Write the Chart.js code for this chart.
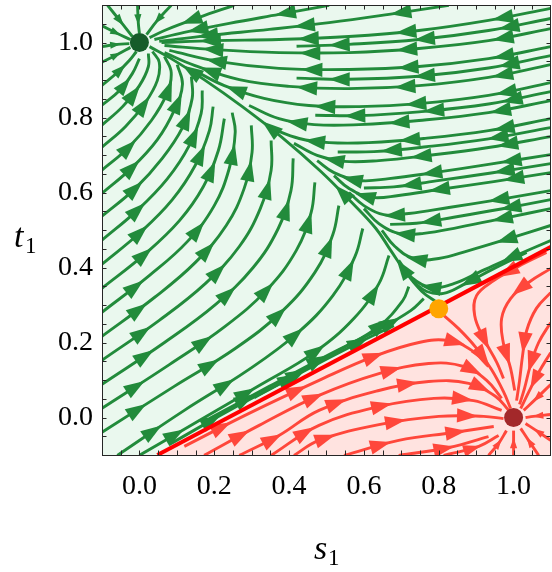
<!DOCTYPE html>
<html>
<head>
<meta charset="utf-8">
<script src="https://cdn.jsdelivr.net/npm/chart.js@4"></script>
<style>
  html, body { margin: 0; padding: 0; background: #ffffff; }
  #wrap { width: 552px; height: 572px; position: relative; }
</style>
</head>
<body>
<div id="wrap"><canvas id="c"></canvas></div>
<script>
// ---------------- data ----------------
const axisMin = -0.1, axisMax = 1.1;
const majorTicks = [0.0, 0.2, 0.4, 0.6, 0.8, 1.0];
const tickLabels = ['0.0', '0.2', '0.4', '0.6', '0.8', '1.0'];
const minorTicks = [-0.05, 0.0, 0.05, 0.1, 0.15, 0.2, 0.25, 0.3, 0.35, 0.4, 0.45, 0.5,
                    0.55, 0.6, 0.65, 0.7, 0.75, 0.8, 0.85, 0.9, 0.95, 1.0, 1.05];
const xTitle = ['s', '1'];
const yTitle = ['t', '1'];

// separatrix (red line)
const sepS = [0.048, 1.1];
const sepT = [-0.1, 0.455];

// fixed points
const sinkGreen = [0.0, 1.0];
const sinkRed = [1.0, 0.0];
const saddlePt = [0.8, 0.29];

// green streamlines near the top-left sink and along the top
const greenTopStreams = [
  [[-0.085,1.099],[-0.048,1.053],[-0.019,1.016]],
  [[-0.005,1.099],[-0.003,1.053],[0,1.024]],
  [[0.085,1.099],[0.048,1.059],[0.019,1.021]],
  [[-0.101,1.045],[-0.059,1.024],[-0.024,1.008]],
  [[-0.101,0.989],[-0.059,0.995],[-0.027,0.997]],
  [[-0.101,0.947],[-0.059,0.968],[-0.024,0.987]],
  [[0.253,1.099],[0.16,1.067],[0.067,1.032],[0.027,1.013]],
  [[0.507,1.099],[0.373,1.075],[0.24,1.051],[0.12,1.027],[0.04,1.008]],
  [[0.827,1.099],[0.667,1.075],[0.507,1.053],[0.347,1.035],[0.187,1.019],[0.053,1.003]]
];

// green streamlines entering from the right edge
const greenRightStreams = [
  [[1.099,1.091],[0.933,1.059],[0.747,1.032],[0.56,1.016],[0.373,1.008],[0.2,1.005],[0.059,1.0]],
  [[1.099,1.037],[0.933,1.005],[0.747,0.984],[0.56,0.973],[0.373,0.973],[0.2,0.981],[0.067,0.992]],
  [[1.099,0.989],[0.933,0.957],[0.747,0.936],[0.56,0.928],[0.373,0.931],[0.213,0.949],[0.08,0.979]],
  [[1.099,0.941],[0.933,0.907],[0.747,0.885],[0.56,0.877],[0.4,0.883],[0.267,0.901],[0.147,0.939],[0.067,0.973]],
  [[1.099,0.893],[0.933,0.859],[0.747,0.837],[0.587,0.829],[0.453,0.832],[0.333,0.851],[0.227,0.885],[0.147,0.925]],
  [[1.099,0.845],[0.933,0.813],[0.747,0.792],[0.587,0.781],[0.467,0.781],[0.373,0.797],[0.293,0.832]],
  [[1.099,0.797],[0.933,0.765],[0.76,0.744],[0.613,0.733],[0.507,0.733],[0.427,0.744],[0.347,0.773]],
  [[1.099,0.749],[0.933,0.72],[0.773,0.699],[0.64,0.685],[0.547,0.683],[0.475,0.699],[0.413,0.731]],
  [[1.099,0.701],[0.933,0.675],[0.787,0.653],[0.667,0.637],[0.587,0.632],[0.52,0.653],[0.475,0.685]],
  [[1.099,0.653],[0.947,0.629],[0.8,0.608],[0.693,0.592],[0.619,0.587],[0.56,0.611],[0.52,0.645]],
  [[1.099,0.605],[0.96,0.581],[0.827,0.56],[0.72,0.544],[0.653,0.541],[0.6,0.565],[0.56,0.6]],
  [[1.099,0.557],[0.973,0.531],[0.853,0.507],[0.76,0.491],[0.693,0.491],[0.64,0.517],[0.6,0.557]],
  [[1.099,0.512],[0.987,0.477],[0.88,0.445],[0.8,0.424],[0.733,0.424],[0.683,0.456],[0.648,0.499]],
  [[1.099,0.472],[1.0,0.429],[0.907,0.387],[0.84,0.357],[0.779,0.347],[0.728,0.373],[0.693,0.419]],
  [[1.035,0.44],[0.947,0.397],[0.867,0.355],[0.813,0.331],[0.768,0.336],[0.731,0.363]]
];

// shorter green streamlines in between, upper right
const greenRightShort = [
  [[1.099,1.064],[0.933,1.032],[0.747,1.008],[0.56,0.995],[0.42,0.99]],
  [[1.099,0.965],[0.933,0.932],[0.747,0.91],[0.56,0.902],[0.42,0.905]],
  [[1.099,0.869],[0.933,0.836],[0.747,0.815],[0.587,0.805],[0.47,0.806]],
  [[1.099,0.773],[0.933,0.743],[0.767,0.722],[0.627,0.709],[0.53,0.708]],
  [[1.099,0.677],[0.94,0.652],[0.793,0.631],[0.68,0.615],[0.6,0.612]],
  [[1.099,0.581],[0.967,0.556],[0.84,0.534],[0.74,0.518],[0.67,0.515]]
];

// green branch leaving the saddle towards the green sink
const greenManifold = [
  [[0.795,0.307],[0.755,0.336],[0.712,0.387],[0.672,0.445],[0.632,0.504],[0.565,0.576],
   [0.485,0.656],[0.381,0.747],[0.275,0.829],[0.173,0.901],[0.085,0.957],[0.027,0.989]]
];

// green streamlines entering from the left / bottom edge
const greenLeftStreams = [
  [[-0.101,0.885],[-0.059,0.92],[-0.027,0.952],[-0.008,0.976]],
  [[-0.101,0.832],[-0.053,0.872],[-0.019,0.917],[0,0.957]],
  [[-0.101,0.779],[-0.045,0.829],[0,0.885],[0.024,0.936],[0.024,0.971]],
  [[-0.101,0.72],[-0.037,0.776],[0.016,0.84],[0.048,0.899],[0.053,0.947],[0.035,0.976]],
  [[-0.101,0.659],[-0.029,0.72],[0.032,0.792],[0.072,0.861],[0.085,0.92],[0.067,0.963]],
  [[-0.101,0.597],[-0.019,0.667],[0.048,0.741],[0.093,0.819],[0.115,0.888],[0.101,0.941]],
  [[-0.101,0.536],[-0.011,0.611],[0.061,0.691],[0.115,0.773],[0.141,0.851],[0.139,0.909]],
  [[-0.101,0.472],[-0.003,0.555],[0.075,0.637],[0.133,0.725],[0.165,0.811],[0.168,0.872]],
  [[-0.101,0.408],[0.005,0.496],[0.088,0.581],[0.149,0.672],[0.187,0.765],[0.197,0.829]],
  [[-0.101,0.344],[0.016,0.437],[0.107,0.525],[0.171,0.616],[0.211,0.712],[0.227,0.797]],
  [[-0.101,0.28],[0.027,0.379],[0.128,0.469],[0.2,0.565],[0.24,0.664],[0.256,0.76],[0.248,0.813]],
  [[-0.101,0.216],[0.04,0.32],[0.149,0.413],[0.232,0.512],[0.28,0.611],[0.301,0.707],[0.299,0.779]],
  [[-0.101,0.152],[0.053,0.259],[0.176,0.357],[0.267,0.456],[0.323,0.557],[0.352,0.659],[0.352,0.739]],
  [[-0.101,0.088],[0.067,0.2],[0.203,0.301],[0.304,0.4],[0.371,0.504],[0.405,0.605],[0.411,0.691]],
  [[-0.101,0.024],[0.08,0.141],[0.229,0.243],[0.341,0.341],[0.419,0.445],[0.459,0.547],[0.469,0.627]],
  [[-0.101,-0.04],[0.093,0.083],[0.256,0.184],[0.381,0.283],[0.469,0.387],[0.517,0.488],[0.533,0.565]],
  [[-0.059,-0.101],[0.12,0.019],[0.288,0.125],[0.421,0.224],[0.517,0.325],[0.576,0.429],[0.597,0.504]],
  [[0,-0.101],[0.16,-0.008],[0.325,0.088],[0.467,0.173],[0.573,0.264],[0.64,0.357],[0.667,0.432]],
  [[0.08,-0.072],[0.24,0.019],[0.4,0.104],[0.533,0.179],[0.64,0.243],[0.704,0.312],[0.72,0.349]],
  [[0.187,-0.003],[0.347,0.083],[0.507,0.168],[0.64,0.235],[0.725,0.285],[0.76,0.317]],
  [[0.307,0.053],[0.453,0.131],[0.587,0.2],[0.68,0.245]]
];

// red branch leaving the saddle towards the red sink
const redManifold = [
  [[0.808,0.277],[0.853,0.237],[0.899,0.187],[0.941,0.128],[0.973,0.069],[0.992,0.024]]
];

// red streamlines on the right of / around the red sink
const redRightStreams = [
  [[1.088,0.44],[1.013,0.403],[0.947,0.365],[0.901,0.325],[0.896,0.272],[0.92,0.211],[0.955,0.147],[0.973,0.104]],
  [[1.099,0.397],[1.04,0.36],[0.992,0.317],[0.968,0.264],[0.973,0.197],[0.992,0.131],[1.003,0.072]],
  [[1.099,0.333],[1.061,0.291],[1.035,0.232],[1.024,0.165],[1.016,0.099],[1.008,0.045]],
  [[1.099,0.253],[1.067,0.2],[1.045,0.139],[1.029,0.077],[1.016,0.035]],
  [[1.099,0.173],[1.067,0.12],[1.04,0.067],[1.019,0.024]],
  [[1.099,0.088],[1.061,0.051],[1.027,0.019]],
  [[1.099,0.008],[1.053,0.003],[1.032,0]],
  [[1.099,-0.061],[1.061,-0.035],[1.032,-0.016]],
  [[1.067,-0.101],[1.04,-0.061],[1.019,-0.029]],
  [[1,-0.101],[1,-0.061],[1,-0.035]],
  [[0.933,-0.101],[0.96,-0.069],[0.981,-0.035]]
];

// red streamlines coming from the lower left
const redLeftStreams = [
  [[0.12,-0.077],[0.293,0.011],[0.48,0.099],[0.627,0.163],[0.747,0.2],[0.827,0.205],[0.888,0.179],[0.933,0.136]],
  [[0.173,-0.101],[0.32,-0.021],[0.48,0.059],[0.64,0.117],[0.773,0.144],[0.867,0.136],[0.928,0.099],[0.968,0.051]],
  [[0.267,-0.101],[0.373,-0.048],[0.48,0.019],[0.64,0.072],[0.773,0.096],[0.88,0.091],[0.952,0.056],[0.987,0.019]],
  [[0.352,-0.101],[0.48,-0.021],[0.64,0.029],[0.787,0.051],[0.893,0.045],[0.968,0.019]],
  [[0.413,-0.101],[0.48,-0.061],[0.64,-0.019],[0.8,0.003],[0.92,0.003],[0.973,-0.003]],
  [[0.547,-0.101],[0.693,-0.061],[0.84,-0.04],[0.947,-0.024]],
  [[0.693,-0.101],[0.827,-0.08],[0.933,-0.051]],
  [[0.813,-0.101],[0.907,-0.077],[0.96,-0.048]]
];

// ---------------- styles ----------------
const GREEN = '#228b3b';
const RED = '#ff473b';
const BG_GREEN = '#eaf8ee';
const BG_RED = '#ffe3e0';
const SERIF = '"Liberation Serif", "Times New Roman", serif';

function streamSets(lines, color, spacing) {
  return lines.map(line => ({
    data: line.map(p => ({ x: p[0], y: p[1] })),
    showLine: true,
    borderColor: color,
    backgroundColor: color,
    borderWidth: 2.9,
    pointRadius: 0,
    pointHoverRadius: 0,
    tension: 0.4,
    fill: false,
    clip: 0,
    order: 2,
    arrowSpacing: spacing
  }));
}

function dotSet(p, color) {
  return {
    data: [{ x: p[0], y: p[1] }],
    showLine: false,
    pointRadius: 9.5,
    pointHoverRadius: 9.5,
    pointBackgroundColor: color,
    pointBorderWidth: 0,
    borderWidth: 0,
    clip: 0,
    order: 0
  };
}

const sepData = sepS.map((s, i) => ({ x: s, y: sepT[i] }));

const datasets = [
  dotSet(sinkGreen, '#165c2a'),
  dotSet(sinkRed, '#a3282a'),
  dotSet(saddlePt, '#ffa500'),
  { data: sepData, showLine: true, borderColor: '#ff0000', borderWidth: 4, pointRadius: 0,
    fill: false, clip: 0, order: 1 },
  ...streamSets(greenTopStreams, GREEN, 90),
  ...streamSets(greenRightStreams, GREEN, 90),
  ...streamSets(greenRightShort, GREEN, 90),
  ...streamSets(greenManifold, GREEN, 90),
  ...streamSets(greenLeftStreams, GREEN, 90),
  ...streamSets(redManifold, RED, 80),
  ...streamSets(redRightStreams, RED, 80),
  ...streamSets(redLeftStreams, RED, 80),
  { data: sepData, showLine: true, borderWidth: 0, borderColor: 'rgba(0,0,0,0)', pointRadius: 0,
    backgroundColor: BG_RED, fill: { target: { value: axisMin } }, clip: 0, order: 3 }
];

// ---------------- plugins ----------------
const bgPlugin = {
  id: 'bgArea',
  beforeDatasetsDraw(chart) {
    const a = chart.chartArea, ctx = chart.ctx;
    ctx.save();
    ctx.fillStyle = BG_GREEN;
    ctx.fillRect(a.left, a.top, a.right - a.left, a.bottom - a.top);
    ctx.restore();
  }
};

const arrowPlugin = {
  id: 'streamArrows',
  afterDatasetDraw(chart, args) {
    const ds = chart.data.datasets[args.index];
    if (!ds.arrowSpacing) return;
    const pts = args.meta.data;
    if (!pts || pts.length < 2) return;
    const poly = [[pts[0].x, pts[0].y]];
    for (let i = 1; i < pts.length; i++) {
      const a = pts[i - 1], b = pts[i];
      const c1x = (a.cp2x !== undefined) ? a.cp2x : a.x;
      const c1y = (a.cp2y !== undefined) ? a.cp2y : a.y;
      const c2x = (b.cp1x !== undefined) ? b.cp1x : b.x;
      const c2y = (b.cp1y !== undefined) ? b.cp1y : b.y;
      for (let k = 1; k <= 20; k++) {
        const u = k / 20, w = 1 - u;
        poly.push([
          w * w * w * a.x + 3 * w * w * u * c1x + 3 * w * u * u * c2x + u * u * u * b.x,
          w * w * w * a.y + 3 * w * w * u * c1y + 3 * w * u * u * c2y + u * u * u * b.y
        ]);
      }
    }
    const cum = [0];
    for (let i = 1; i < poly.length; i++) {
      cum.push(cum[i - 1] + Math.hypot(poly[i][0] - poly[i - 1][0], poly[i][1] - poly[i - 1][1]));
    }
    const total = cum[cum.length - 1];
    if (total < 4) return;
    const n = Math.max(1, Math.round(total / ds.arrowSpacing));
    const sc = Math.min(1, Math.max(0.5, total / 70));
    const len = 21 * sc, half = 7.2 * sc;
    const ctx = chart.ctx, area = chart.chartArea;
    ctx.save();
    ctx.beginPath();
    ctx.rect(area.left, area.top, area.right - area.left, area.bottom - area.top);
    ctx.clip();
    ctx.fillStyle = ds.borderColor;
    let j = 0;
    for (let k = 0; k < n; k++) {
      const target = (k + 0.5) * total / n;
      while (j < cum.length - 2 && cum[j + 1] < target) j++;
      const segLen = cum[j + 1] - cum[j] || 1;
      const f = (target - cum[j]) / segLen;
      const px = poly[j][0] + (poly[j + 1][0] - poly[j][0]) * f;
      const py = poly[j][1] + (poly[j + 1][1] - poly[j][1]) * f;
      let dx = poly[j + 1][0] - poly[j][0], dy = poly[j + 1][1] - poly[j][1];
      const d = Math.hypot(dx, dy) || 1;
      dx /= d; dy /= d;
      const tipX = px + dx * len * 0.5, tipY = py + dy * len * 0.5;
      const bx = px - dx * len * 0.5, by = py - dy * len * 0.5;
      ctx.beginPath();
      ctx.moveTo(tipX, tipY);
      ctx.lineTo(bx - dy * half, by + dx * half);
      ctx.lineTo(bx + dy * half, by - dx * half);
      ctx.closePath();
      ctx.fill();
    }
    ctx.restore();
  }
};

const framePlugin = {
  id: 'frameTicks',
  afterDraw(chart) {
    const ctx = chart.ctx, a = chart.chartArea;
    const xs = chart.scales.x, ys = chart.scales.y;
    ctx.save();
    ctx.strokeStyle = '#262626';
    ctx.lineWidth = 1;
    const tl = 4.5;
    ctx.beginPath();
    minorTicks.forEach(v => {
      const px = Math.round(xs.getPixelForValue(v)) + 0.5;
      ctx.moveTo(px, a.bottom); ctx.lineTo(px, a.bottom - tl);
      ctx.moveTo(px, a.top); ctx.lineTo(px, a.top + tl);
      const py = Math.round(ys.getPixelForValue(v)) + 0.5;
      ctx.moveTo(a.left, py); ctx.lineTo(a.left + tl, py);
      ctx.moveTo(a.right, py); ctx.lineTo(a.right - tl, py);
    });
    ctx.stroke();
    ctx.strokeRect(Math.round(a.left) + 0.5, Math.round(a.top) + 0.5,
                   Math.round(a.right - a.left) - 1, Math.round(a.bottom - a.top));
    // axis titles with subscript
    ctx.fillStyle = '#000';
    ctx.textBaseline = 'alphabetic';
    ctx.textAlign = 'left';
    ctx.font = 'italic 34px ' + SERIF;
    ctx.fillText(yTitle[0], 14, 247);
    ctx.font = '23px ' + SERIF;
    ctx.fillText(yTitle[1], 25, 253);
    ctx.font = 'italic 34px ' + SERIF;
    ctx.fillText(xTitle[0], 314, 559);
    ctx.font = '23px ' + SERIF;
    ctx.fillText(xTitle[1], 328, 565);
    ctx.restore();
  }
};

// ---------------- chart ----------------
const tickFont = { family: SERIF, size: 28, lineHeight: 1.2 };
function setTicks(scale) { scale.ticks = majorTicks.map(v => ({ value: v })); }
function noPad(scale) {
  scale.paddingTop = 0; scale.paddingBottom = 0;
  scale.paddingLeft = 0; scale.paddingRight = 0;
}

new Chart(document.getElementById('c'), {
  type: 'scatter',
  data: { datasets },
  options: {
    responsive: true,
    maintainAspectRatio: false,
    animation: false,
    events: [],
    layout: { autoPadding: false, padding: { top: 5, right: 1, left: 0, bottom: 0 } },
    plugins: { legend: { display: false }, tooltip: { enabled: false }, title: { display: false } },
    scales: {
      x: {
        type: 'linear', min: axisMin, max: axisMax,
        grid: { display: false, drawTicks: false },
        border: { display: false },
        afterBuildTicks: setTicks,
        afterFit: s => { s.height = 117; noPad(s); },
        ticks: { font: tickFont, color: '#000', padding: 15, maxRotation: 0, autoSkip: false,
                 callback: (v, i) => tickLabels[i] }
      },
      y: {
        type: 'linear', min: axisMin, max: axisMax,
        grid: { display: false, drawTicks: false },
        border: { display: false },
        afterBuildTicks: setTicks,
        afterFit: s => { s.width = 102; noPad(s); },
        ticks: { font: tickFont, color: '#000', padding: 9, autoSkip: false,
                 callback: (v, i) => tickLabels[i] }
      }
    }
  },
  plugins: [bgPlugin, arrowPlugin, framePlugin]
});
</script>
</body>
</html>
